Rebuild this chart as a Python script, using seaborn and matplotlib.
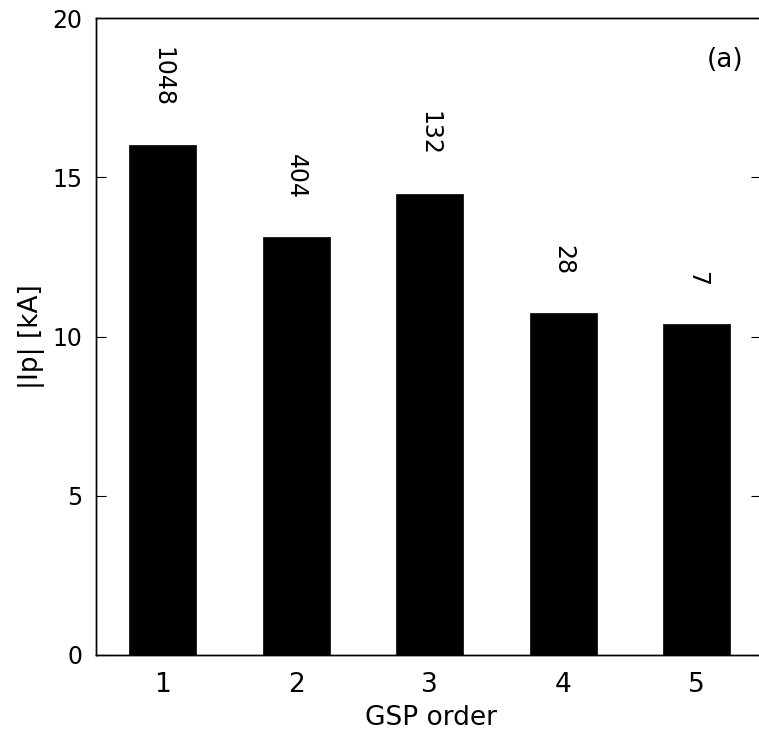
import numpy as np
import pandas as pd
import matplotlib
matplotlib.use("Agg")
import matplotlib.pyplot as plt
import seaborn as sns

# data
orders = ["1", "2", "3", "4", "5"]
ip_ka = [16.0, 13.12, 14.47, 10.74, 10.39]
counts = [1048, 404, 132, 28, 7]

sns.set_style("ticks")
plt.rcParams['font.family'] = ['DejaVu Sans']
plt.rcParams['text.color'] = 'black'
plt.rcParams['axes.labelcolor'] = 'black'
plt.rcParams['axes.edgecolor'] = 'black'
plt.rcParams['xtick.color'] = 'black'
plt.rcParams['ytick.color'] = 'black'

df = pd.DataFrame({"order": orders, "ip": ip_ka})

# axes runs slightly past the right edge of the figure (cropped in the original)
fig = plt.figure(figsize=(7.59, 7.34), dpi=100)
ax = fig.add_axes([96 / 759, 79 / 734, 670 / 759, 637 / 734])

sns.barplot(data=df, x="order", y="ip", color="black", width=0.5,
            saturation=1, linewidth=0.5, edgecolor="black", ax=ax)

# counts above each bar, rotated
for i, (v, n) in enumerate(zip(ip_ka, counts)):
    ax.text(i, v + 1.2, str(n), rotation=270, ha="center", va="bottom",
            fontsize=17)

ax.text(0.966, 0.955, "(a)", transform=ax.transAxes, ha="right", va="top",
        fontsize=19)

ax.set_xlim(-0.5, 4.5 + 2.5 / 133.5)
ax.set_ylim(0, 20)
ax.set_yticks([0, 5, 10, 15, 20])
ax.set_xlabel("GSP order", fontsize=19, labelpad=5)
ax.set_ylabel("|Ip| [kA]", fontsize=19, labelpad=5)

for s in ax.spines.values():
    s.set_visible(True)
    s.set_linewidth(1.0)
    s.set_color("black")

ax.tick_params(axis="y", direction="in", length=7, width=0.8, labelsize=17,
               right=False, pad=10)
ax.tick_params(axis="x", direction="in", length=0, labelsize=19, pad=12)

# right-hand ticks (spine itself is cut off by the figure edge)
ax2 = ax.twinx()
ax2.set_ylim(0, 20)
ax2.set_yticks([0, 5, 10, 15, 20])
ax2.tick_params(axis="y", direction="in", length=11, width=0.8,
                labelright=False)
for s in ax2.spines.values():
    s.set_linewidth(1.0)
    s.set_color("black")

fig.savefig("out.png", dpi=100)
